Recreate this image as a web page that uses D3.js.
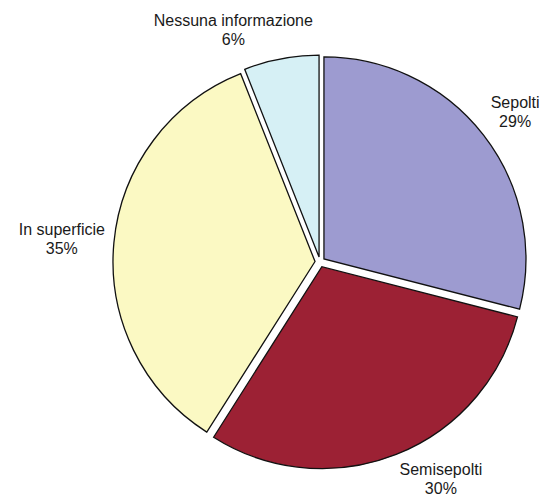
<!DOCTYPE html>
<html>
<head>
<meta charset="utf-8">
<script src="https://cdn.jsdelivr.net/npm/d3@7"></script>
<style>
  html, body { margin: 0; padding: 0; background: #ffffff; }
  svg { display: block; }
  text { font-family: "Liberation Sans", Arial, sans-serif; font-size: 16px; fill: #1a1a1a; }
</style>
</head>
<body>
<svg id="chart" width="543" height="499"></svg>
<script>
const categories = ["Sepolti", "Semisepolti", "In superficie", "Nessuna informazione"];
const values = [29, 30, 35, 6];
const percentLabels = ["29%", "30%", "35%", "6%"];
const sliceColors = ["#9d9bd0", "#9c2134", "#fbf9c3", "#d6f0f5"];

const width = 543, height = 499;
const cx = 320, cy = 262;
const radius = 202;
const explode = 5;
const labelRx = 216, labelRy = 221;
const lineGap = 19;
const capH = 11.5;

const svg = d3.select("#chart");
svg.append("rect").attr("width", width).attr("height", height).attr("fill", "#ffffff");

const color = d3.scaleOrdinal().domain(categories).range(sliceColors);
const pie = d3.pie().sort(null).value(d => d.value);
const arc = d3.arc().innerRadius(0).outerRadius(radius);

const data = categories.map((c, i) => ({ name: c, value: values[i], pct: percentLabels[i] }));
const arcs = pie(data);

const g = svg.append("g").attr("transform", `translate(${cx},${cy})`);

g.selectAll("path.slice")
  .data(arcs)
  .enter()
  .append("path")
  .attr("class", "slice")
  .attr("transform", d => {
    const a = (d.startAngle + d.endAngle) / 2;
    return `translate(${explode * Math.sin(a)},${-explode * Math.cos(a)})`;
  })
  .attr("d", arc)
  .attr("fill", d => color(d.data.name))
  .attr("stroke", "#111111")
  .attr("stroke-width", 1.3)
  .attr("stroke-linejoin", "miter");

// labels
const clamp = (v) => Math.max(0, Math.min(1, v));
const lg = g.append("g");
arcs.forEach(d => {
  const a = (d.startAngle + d.endAngle) / 2;
  const s = Math.sin(a), c = Math.cos(a);
  const ax = labelRx * s, ay = -labelRy * c;
  const grp = lg.append("g");
  const t1 = grp.append("text").attr("text-anchor", "middle").text(d.data.name);
  const t2 = grp.append("text").attr("text-anchor", "middle").text(d.data.pct);
  const w = Math.max(t1.node().getComputedTextLength(), t2.node().getComputedTextLength());
  const h = capH + lineGap;
  const fx = clamp(0.5 - 1.55 * s);
  const fy = clamp(0.5 + 0.9 * c);
  const left = ax - fx * w;
  let top = ay - fy * h;
  top = Math.min(top, height - cy - 5 - h);
  const mx = left + w / 2;
  t1.attr("x", mx).attr("y", top + capH);
  t2.attr("x", mx).attr("y", top + capH + lineGap);
});
</script>
</body>
</html>
